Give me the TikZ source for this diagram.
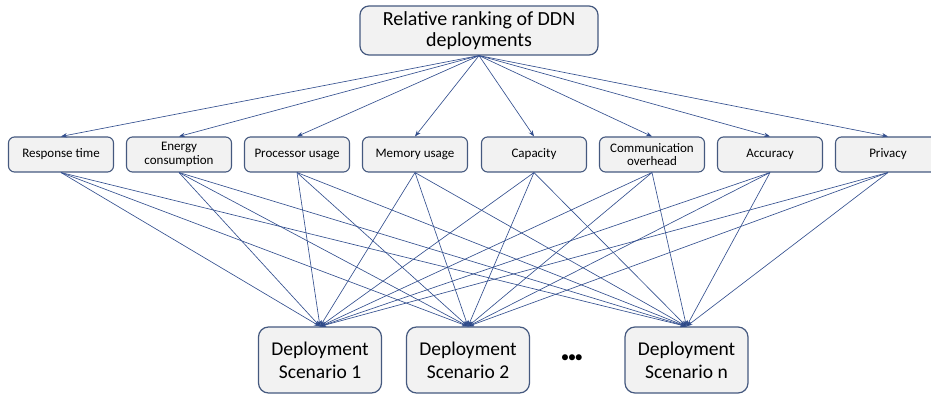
\documentclass[tikz,border=0pt]{standalone}
\usepackage{fontspec}
\setmainfont{Carlito}
\usetikzlibrary{arrows.meta}

\definecolor{boxline}{HTML}{45597F}
\definecolor{boxfill}{HTML}{F2F2F2}
\definecolor{linkblue}{HTML}{34508F}
\definecolor{tipblue}{HTML}{1C2F66}

\tikzset{
    rootbox/.style={draw=boxline, fill=boxfill, rounded corners=9pt, line width=1.2pt,
        minimum width=238pt, minimum height=49pt, inner sep=0pt, align=center,
        font=\fontsize{20}{20.5}\selectfont},
    critbox/.style={draw=boxline, fill=boxfill, rounded corners=6pt, line width=1.1pt,
        minimum width=105pt, minimum height=35pt, inner sep=0pt, align=center,
        font=\fontsize{13}{13.5}\selectfont},
    deplbox/.style={draw=boxline, fill=boxfill, rounded corners=10pt, line width=1.2pt,
        minimum width=123pt, minimum height=66pt, inner sep=0pt, align=center,
        font=\fontsize{19.5}{23}\selectfont},
    link/.style={->, draw=linkblue, line width=0.65pt},
}

\begin{document}
\begin{tikzpicture}[>={Stealth[length=6pt, width=4.5pt, fill=tipblue]}, x=1pt, y=1pt]
    \clip (0, 0) rectangle (931, 394);

    % Goal on top
    \node[rootbox] (rank) at (479, 363.5) {Relative ranking of DDN\\deployments};

    % Criteria row
    \node[critbox] (resp) at (61, 239.5) {Response time};
    \node[critbox] (energy) at (179, 239.5) {Energy\\consumption};
    \node[critbox] (cpu) at (297, 239.5) {Processor usage};
    \node[critbox] (mem) at (415, 239.5) {Memory usage};
    \node[critbox] (cap) at (534, 239.5) {Capacity};
    \node[critbox] (comm) at (652, 239.5) {Communication\\overhead};
    \node[critbox] (acc) at (770, 239.5) {Accuracy};
    \node[critbox] (priv) at (888, 239.5) {Privacy};

    % Alternatives at the bottom
    \node[deplbox] (dep1) at (320, 34) {Deployment\\Scenario 1};
    \node[deplbox] (dep2) at (468, 34) {Deployment\\Scenario 2};
    \node[deplbox] (depn) at (686.5, 34) {Deployment\\Scenario n};
    \node[font=\fontsize{17}{17}\selectfont] (dots) at (572, 35) {\textbullet\kern-1.5pt\textbullet\kern-1.5pt\textbullet};

    % Goal -> criteria, criteria -> every scenario
    \foreach \c in {resp, energy, cpu, mem, cap, comm, acc, priv} {
        \draw[link] (rank.south) -- (\c.north);
        \foreach \d in {dep1, dep2, depn}
            \draw[link] (\c.south) -- (\d.north);
    }
\end{tikzpicture}
\end{document}
